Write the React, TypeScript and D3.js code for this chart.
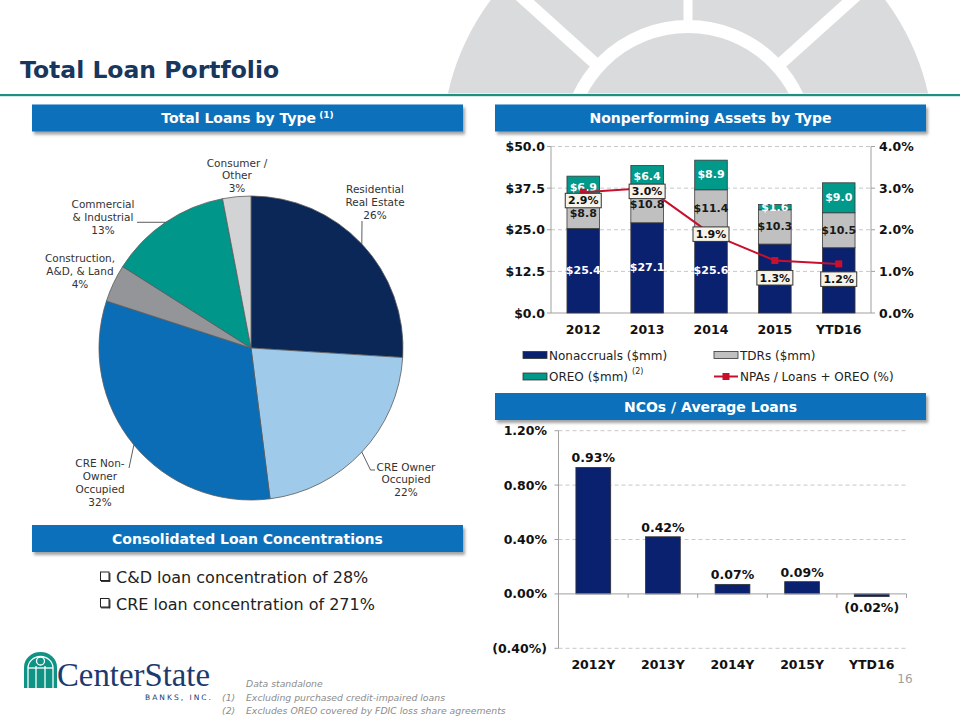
import React from 'react';
import * as d3 from 'd3';

// ---------- DATA ----------
const PIE_CATEGORIES = [
  'Residential Real Estate',
  'CRE Owner Occupied',
  'CRE Non-Owner Occupied',
  'Construction, A&D, & Land',
  'Commercial & Industrial',
  'Consumer / Other',
];
const PIE_VALUES = [26, 22, 32, 4, 13, 3];
const PIE_LABEL_LINES = [
  ['Residential', 'Real Estate', '26%'],
  ['CRE Owner', 'Occupied', '22%'],
  ['CRE Non-', 'Owner', 'Occupied', '32%'],
  ['Construction,', 'A&D, & Land', '4%'],
  ['Commercial', '& Industrial', '13%'],
  ['Consumer /', 'Other', '3%'],
];

const NPA_YEARS = ['2012', '2013', '2014', '2015', 'YTD16'];
const NONACCRUALS = [25.4, 27.1, 25.6, 20.7, 19.6];
const NONACCRUAL_LABEL_SHOWN = [true, true, true, false, false];
const TDRS = [8.8, 10.8, 11.4, 10.3, 10.5];
const OREO = [6.9, 6.4, 8.9, 1.6, 9.0];
const NPA_RATIO = [2.9, 3.0, 1.9, 1.26, 1.18];
const NPA_LEFT_TICKS = [0, 12.5, 25, 37.5, 50];
const NPA_RIGHT_TICKS = [0, 1, 2, 3, 4];
const NPA_SERIES = ['Nonaccruals ($mm)', 'TDRs ($mm)', 'OREO ($mm)', 'NPAs / Loans + OREO (%)'];

const NCO_YEARS = ['2012Y', '2013Y', '2014Y', '2015Y', 'YTD16'];
const NCO_VALUES = [0.93, 0.42, 0.07, 0.09, -0.02];
const NCO_TICKS = [-0.4, 0, 0.4, 0.8, 1.2];

const BULLETS = ['C&D loan concentration of 28%', 'CRE loan concentration of 271%'];
const FOOTNOTES = [
  ['', 'Data standalone'],
  ['(1)', 'Excluding purchased credit-impaired loans'],
  ['(2)', 'Excludes OREO covered by FDIC loss share agreements'],
];

// ---------- STYLE / LAYOUT ----------
const FONT = '"DejaVu Sans", Verdana, sans-serif';
const PIE_COLORS = ['#0b2757', '#9fcae9', '#0b6db6', '#939598', '#00978a', '#d2d3d5'];
const SEG_COLORS = ['#0a2170', '#c0c0c0', '#00998a'];
const LINE_COLOR = '#c8102e';
const HEADER_FILL = '#0a6fba';
const PIE_LABEL_LAYOUT = [
  { x: 375, y: 193, leader: [[362, 221]] },
  { x: 406, y: 470.5, leader: [[370.5, 470], [375, 470]] },
  { x: 100, y: 467, leader: [[129, 468]] },
  { x: 80, y: 262, leader: null },
  { x: 103, y: 208, leader: [[137, null]] },
  { x: 237, y: 166.5, leader: null },
];
const NPA_LABEL_DY = [8, 3, 0, 17, 15];

function Header({ x, y, w, h, text, sup }: any) {
  return (
    <g>
      <rect x={x} y={y} width={w} height={h} fill={HEADER_FILL} filter="url(#hshadow)" />
      <text x={x + w / 2} y={y + h / 2 + 5} textAnchor="middle" fill="#fff" fontFamily={FONT}
        fontWeight="bold" fontSize={14}>
        {text}
        {sup ? <tspan fontSize={9} dy={-5}>{' ' + sup}</tspan> : null}
      </text>
    </g>
  );
}

export default function App() {
  // ---- Pie ----
  const cx = 251, cy = 348, R = 152;
  const pie = d3.pie<number>().sort(null).value((d) => d)(PIE_VALUES);
  const arc = d3.arc<d3.PieArcDatum<number>>().innerRadius(0).outerRadius(R);

  // ---- NPA chart ----
  const npaX = d3.scaleBand<string>().domain(NPA_YEARS).range([551, 871]).paddingInner(0.49).paddingOuter(0.25);
  const npaY = d3.scaleLinear().domain([0, 50]).range([313, 146.5]);
  const npaY2 = d3.scaleLinear().domain([0, 4]).range([313, 146.5]);
  const npaTable = NPA_YEARS.map((yr, i) => ({ yr, a: NONACCRUALS[i], b: TDRS[i], c: OREO[i] }));
  const stack = d3.stack<any>().keys(['a', 'b', 'c'])(npaTable);
  const lineGen = d3.line<number>()
    .x((_, i) => (npaX(NPA_YEARS[i]) as number) + npaX.bandwidth() / 2)
    .y((d) => npaY2(d));

  // ---- NCO chart ----
  const ncoX = d3.scaleBand<string>().domain(NCO_YEARS).range([558.5, 906.5]).paddingInner(0.5).paddingOuter(0.25);
  const ncoY = d3.scaleLinear().domain([-0.4, 1.2]).range([648.3, 430.7]);
  const fmtPct = (v: number) => (v < 0 ? `(${Math.abs(v).toFixed(2)}%)` : `${v.toFixed(2)}%`);

  const bw = npaX.bandwidth();

  return (
    <svg width={960} height={720} style={{ position: 'absolute', left: 0, top: 0, background: '#fff' }}
      fontFamily={FONT}>
      <defs>
        <filter id="hshadow" x="-5%" y="-30%" width="115%" height="180%">
          <feDropShadow dx="2" dy="3" stdDeviation="1.8" floodColor="#666" floodOpacity="0.6" />
        </filter>
        <clipPath id="wmclip"><rect x={0} y={0} width={960} height={93.5} /></clipPath>
      </defs>

      {/* watermark */}
      <g clipPath="url(#wmclip)">
        <circle cx={688} cy={147} r={246} fill="#dadbdc" />
        <circle cx={688} cy={147} r={120.5} fill="none" stroke="#fff" strokeWidth={13} />
        <line x1={688} y1={-5} x2={688} y2={30} stroke="#fff" strokeWidth={9} />
        {[-48, 48].map((deg) => {
          const a = (deg * Math.PI) / 180;
          return (
            <line key={deg} x1={688 + 125 * Math.sin(a)} y1={147 - 125 * Math.cos(a)}
              x2={688 + 300 * Math.sin(a)} y2={147 - 300 * Math.cos(a)} stroke="#fff" strokeWidth={12} />
          );
        })}
      </g>

      {/* Title */}
      <text x={20} y={78} fontSize={23.5} fontWeight="bold" fill="#17375e">Total Loan Portfolio</text>
      <rect x={0} y={94} width={960} height={2.2} fill="#1f8f82" />

      <Header x={32} y={104.5} w={431} h={27} text="Total Loans by Type" sup="(1)" />
      <Header x={495} y={104.5} w={431} h={27} text="Nonperforming Assets by Type" />
      <Header x={495} y={393} w={431} h={27} text="NCOs / Average Loans" />
      <Header x={32} y={525} w={431} h={27} text="Consolidated Loan Concentrations" />

      {/* Pie */}
      <g transform={`translate(${cx},${cy})`}>
        {pie.map((p, i) => (
          <path key={PIE_CATEGORIES[i]} d={arc(p) || ''} fill={PIE_COLORS[i]} stroke="#5a5a5a" strokeWidth={0.8} />
        ))}
      </g>
      {pie.map((p, i) => {
        const L = PIE_LABEL_LAYOUT[i];
        const mid = (p.startAngle + p.endAngle) / 2;
        const ex = cx + R * Math.sin(mid);
        const ey = cy - R * Math.cos(mid);
        let leader = null;
        if (L.leader) {
          const pts = [[ex, ey], ...L.leader.map(([x, y]) => [x, y === null ? ey : y])];
          leader = <polyline points={pts.map((q) => q.join(',')).join(' ')} fill="none" stroke="#333" strokeWidth={0.8} />;
        }
        return (
          <g key={'lbl' + i}>
            {leader}
            <text x={L.x} y={L.y} textAnchor="middle" fontSize={10.5} fill="#333">
              {PIE_LABEL_LINES[i].map((ln, j) => (
                <tspan key={j} x={L.x} dy={j === 0 ? 0 : 12.9}>{ln}</tspan>
              ))}
            </text>
          </g>
        );
      })}

      {/* NPA chart */}
      <g>
        {NPA_LEFT_TICKS.filter((t) => t > 0).map((t) => (
          <line key={'g' + t} x1={551} x2={871} y1={npaY(t)} y2={npaY(t)} stroke="#c8c8c8" strokeDasharray="4,3" strokeWidth={1} />
        ))}
        <line x1={551} x2={551} y1={npaY(50)} y2={npaY(0)} stroke="#a0a0a0" />
        <line x1={871} x2={871} y1={npaY(50)} y2={npaY(0)} stroke="#a0a0a0" />
        <line x1={551} x2={871} y1={npaY(0)} y2={npaY(0)} stroke="#a0a0a0" />
        {NPA_LEFT_TICKS.map((t) => (
          <g key={'lt' + t}>
            <line x1={547} x2={551} y1={npaY(t)} y2={npaY(t)} stroke="#a0a0a0" />
            <text x={545} y={npaY(t) + 4.5} textAnchor="end" fontSize={12.5} fontWeight="bold" fill="#111">
              ${t.toFixed(1)}
            </text>
          </g>
        ))}
        {NPA_RIGHT_TICKS.map((t) => (
          <g key={'rt' + t}>
            <line x1={871} x2={875} y1={npaY2(t)} y2={npaY2(t)} stroke="#a0a0a0" />
            <text x={879} y={npaY2(t) + 4.5} textAnchor="start" fontSize={12.5} fontWeight="bold" fill="#111">
              {t.toFixed(1)}%
            </text>
          </g>
        ))}
        {stack.map((s, si) =>
          s.map((d, i) => (
            <rect key={si + '-' + i} x={npaX(NPA_YEARS[i])} y={npaY(d[1])} width={bw}
              height={npaY(d[0]) - npaY(d[1])} fill={SEG_COLORS[si]} stroke="#3a3a3a" strokeWidth={0.8} />
          ))
        )}
        {stack.map((s, si) =>
          s.map((d, i) => {
            if (si === 0 && !NONACCRUAL_LABEL_SHOWN[i]) return null;
            const v = d[1] - d[0];
            return (
              <text key={'v' + si + '-' + i} x={(npaX(NPA_YEARS[i]) as number) + bw / 2}
                y={npaY((d[0] + d[1]) / 2) + 3.5} textAnchor="middle" fontSize={11} fontWeight="bold"
                fill={si === 1 ? '#1a1a1a' : '#fff'}>
                ${v.toFixed(1)}
              </text>
            );
          })
        )}
        {NPA_YEARS.map((yr) => (
          <text key={'x' + yr} x={(npaX(yr) as number) + bw / 2} y={334} textAnchor="middle" fontSize={12.5}
            fontWeight="bold" fill="#111">{yr}</text>
        ))}
        <path d={lineGen(NPA_RATIO) || ''} fill="none" stroke={LINE_COLOR} strokeWidth={2} />
        {NPA_RATIO.map((v, i) => (
          <rect key={'m' + i} x={(npaX(NPA_YEARS[i]) as number) + bw / 2 - 3.5} y={npaY2(v) - 3.5}
            width={7} height={7} fill={LINE_COLOR} />
        ))}
        {NPA_RATIO.map((v, i) => {
          const x = (npaX(NPA_YEARS[i]) as number) + bw / 2;
          const y = npaY2(v) + NPA_LABEL_DY[i];
          return (
            <g key={'lb' + i}>
              <rect x={x - 18} y={y - 7} width={36} height={14.5} fill="#f6f4ea" stroke="#333" strokeWidth={1} />
              <text x={x} y={y + 4} textAnchor="middle" fontSize={11} fontWeight="bold" fill="#111">
                {v.toFixed(1)}%
              </text>
            </g>
          );
        })}
        {/* legend */}
        {[0, 1, 2, 3].map((k) => {
          const lx = k % 2 === 0 ? 523 : 714;
          const ly = k < 2 ? 355 : 376.5;
          return (
            <g key={'lg' + k}>
              {k < 3 ? (
                <rect x={lx} y={ly - 3.5} width={24} height={7} fill={SEG_COLORS[k]}
                  stroke="#333" strokeWidth={0.8} />
              ) : (
                <g>
                  <line x1={lx} x2={lx + 24} y1={ly} y2={ly} stroke={LINE_COLOR} strokeWidth={2} />
                  <rect x={lx + 8.5} y={ly - 3.5} width={7} height={7} fill={LINE_COLOR} />
                </g>
              )}
              <text x={lx + 26} y={ly + 4.5} fontSize={12} fill="#222">
                {NPA_SERIES[k]}
                {k === 2 ? <tspan fontSize={8} dx={4} dy={-7}>(2)</tspan> : null}
              </text>
            </g>
          );
        })}
      </g>

      {/* NCO chart */}
      <g>
        {NCO_TICKS.filter((t) => t !== 0).map((t) => (
          <line key={'ng' + t} x1={558.5} x2={906.5} y1={ncoY(t)} y2={ncoY(t)} stroke="#c8c8c8" strokeDasharray="4,3" />
        ))}
        <line x1={558.5} x2={558.5} y1={ncoY(1.2)} y2={ncoY(-0.4)} stroke="#a0a0a0" />
        {NCO_TICKS.map((t) => (
          <g key={'nt' + t}>
            <line x1={554.5} x2={558.5} y1={ncoY(t)} y2={ncoY(t)} stroke="#a0a0a0" />
            <text x={547} y={ncoY(t) + 4.5} textAnchor="end" fontSize={12.5} fontWeight="bold" fill="#111">
              {fmtPct(t)}
            </text>
          </g>
        ))}
        {NCO_VALUES.map((v, i) => (
          <rect key={'nb' + i} x={ncoX(NCO_YEARS[i])} y={ncoY(Math.max(0, v))} width={ncoX.bandwidth()}
            height={Math.abs(ncoY(v) - ncoY(0))} fill="#0a2170" stroke="#333" strokeWidth={0.8} />
        ))}
        <line x1={558.5} x2={906.5} y1={ncoY(0)} y2={ncoY(0)} stroke="#a0a0a0" />
        {NCO_YEARS.map((yr, i) => {
          const bx = (ncoX(yr) as number) + ncoX.bandwidth() + (ncoX.step() * ncoX.paddingInner()) / 2;
          return <line key={'bt' + i} x1={bx} x2={bx} y1={ncoY(0)} y2={ncoY(0) + 4} stroke="#a0a0a0" />;
        })}
        {NCO_VALUES.map((v, i) => {
          const x = (ncoX(NCO_YEARS[i]) as number) + ncoX.bandwidth() / 2;
          const y = v >= 0 ? ncoY(v) - 5 : ncoY(v) + 15;
          return (
            <text key={'nl' + i} x={x} y={y} textAnchor="middle" fontSize={12.5} fontWeight="bold" fill="#111">
              {fmtPct(v)}
            </text>
          );
        })}
        {NCO_YEARS.map((yr) => (
          <text key={'nx' + yr} x={(ncoX(yr) as number) + ncoX.bandwidth() / 2} y={669} textAnchor="middle"
            fontSize={12.5} fontWeight="bold" fill="#111">{yr}</text>
        ))}
      </g>

      {/* bullets */}
      {BULLETS.map((b, i) => (
        <g key={'bu' + i}>
          <rect x={100.5} y={572 + i * 26.5} width={8.5} height={8.5} fill="none" stroke="#222" strokeWidth={1} />
          <line x1={101} x2={110} y1={581.3 + i * 26.5} y2={581.3 + i * 26.5} stroke="#222" strokeWidth={1.2} />
          <line x1={109.8} x2={109.8} y1={573 + i * 26.5} y2={581.8 + i * 26.5} stroke="#222" strokeWidth={1.2} />
          <text x={116} y={583 + i * 26.5} fontSize={16} fill="#222">{b}</text>
        </g>
      ))}

      {/* logo */}
      <g>
        <path d="M24,688 L24,667 A16.5,15 0 0 1 57,667 L57,688 Z" fill="#0e9384" />
        <path d="M28,688 L28,668 A12.5,11.5 0 0 1 53,668 L53,688" fill="none" stroke="#fff" strokeWidth={1.3} />
        <line x1={36} x2={36} y1={666} y2={688} stroke="#fff" strokeWidth={1.3} />
        <line x1={45} x2={45} y1={666} y2={688} stroke="#fff" strokeWidth={1.3} />
        <line x1={28} x2={53} y1={668} y2={668} stroke="#fff" strokeWidth={1.3} />
        <circle cx={40.5} cy={661} r={4} fill="none" stroke="#fff" strokeWidth={1.3} />
        <text x={57} y={686} fontFamily='"Liberation Serif", serif' fontSize={34} fill="#1d3a6e"
          textLength={153} lengthAdjust="spacingAndGlyphs">CenterState</text>
        <text x={145} y={700} fontSize={7.5} fill="#1d3a6e" textLength={66} lengthAdjust="spacing">BANKS, INC.</text>
      </g>

      {/* footnotes */}
      {FOOTNOTES.map(([n, t], i) => (
        <g key={'fn' + i}>
          {n ? <text x={222} y={687 + i * 13.7} fontSize={9.3} fontStyle="italic" fill="#8c8c8c">{n}</text> : null}
          <text x={246} y={687 + i * 13.7} fontSize={9.3} fontStyle="italic" fill="#8c8c8c">{t}</text>
        </g>
      ))}
      <text x={905} y={683} textAnchor="middle" fontSize={12} fill="#a0a0a0">16</text>
    </svg>
  );
}
